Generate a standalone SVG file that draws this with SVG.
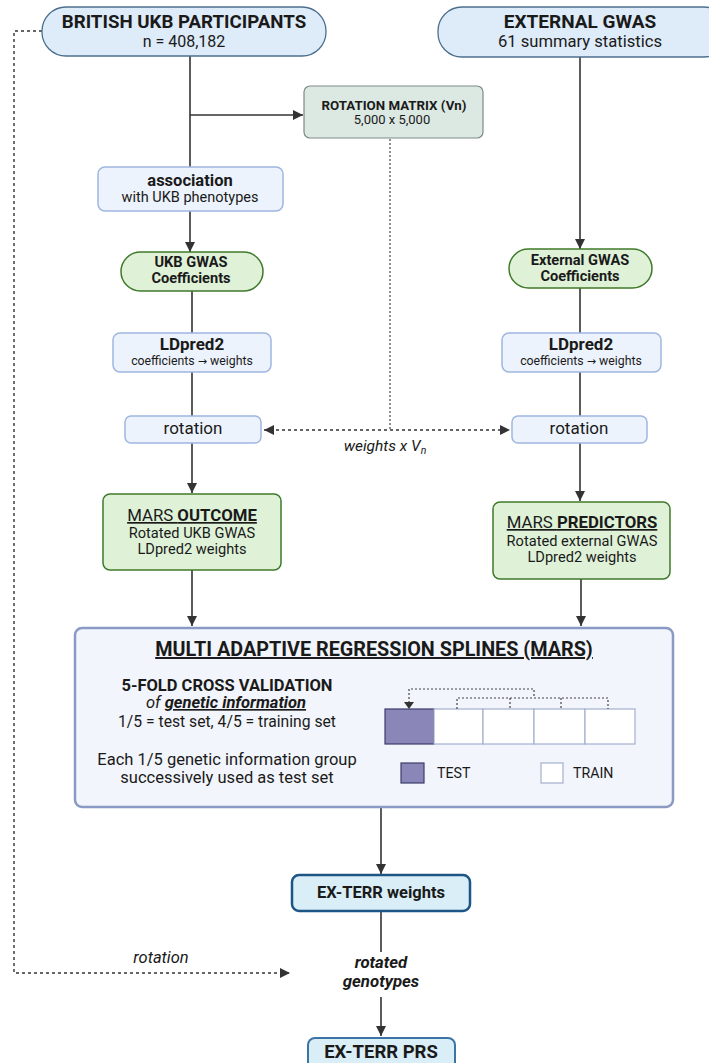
<svg xmlns="http://www.w3.org/2000/svg" width="709" height="1063" viewBox="0 0 709 1063">
<style>
text{font-family:Roboto,"Liberation Sans",sans-serif;fill:#1a1a1a;text-anchor:middle}
.b{font-weight:bold}
.i{font-style:italic}
.ar{font-family:"DejaVu Sans",sans-serif}
.pill{fill:#deebf8;stroke:#4d6f8f;stroke-width:1.3}
.sm{fill:#edf3fc;stroke:#9fb6df;stroke-width:1.5}
.gr{fill:#dff2d8;stroke:#3f7a2a;stroke-width:1.5}
.ln{stroke:#333;stroke-width:1.6;fill:none}
.dt{stroke:#333;stroke-width:1.4;fill:none;stroke-dasharray:3 3}
.dt2{stroke:#444;stroke-width:1.2;fill:none;stroke-dasharray:2 2}
</style>
<defs>
<marker id="ah" viewBox="0 0 10 10" refX="10" refY="5" markerWidth="10" markerHeight="10" markerUnits="userSpaceOnUse" orient="auto-start-reverse"><path d="M0,0 L10,5 L0,10 z" fill="#333"/></marker>
</defs>

<g id="connectors">
<path class="dt" d="M42,31 H14 V973 H290" marker-end="url(#ah)"/>
<path class="ln" d="M190,56 V252" marker-end="url(#ah)"/>
<path class="ln" d="M190,115 H303" marker-end="url(#ah)"/>
<path class="ln" d="M192,291 V333"/>
<path class="ln" d="M192,372 V416"/>
<path class="ln" d="M192,443 V493" marker-end="url(#ah)"/>
<path class="ln" d="M192,570 V626" marker-end="url(#ah)"/>
<path class="ln" d="M580,57 V249" marker-end="url(#ah)"/>
<path class="ln" d="M580,288 V333"/>
<path class="ln" d="M580,372 V416"/>
<path class="ln" d="M580,443 V501" marker-end="url(#ah)"/>
<path class="ln" d="M581,579 V626" marker-end="url(#ah)"/>
<path class="dt2" d="M390,139 V430"/>
<path class="dt" d="M264,430 H510" marker-start="url(#ah)" marker-end="url(#ah)"/>
<path class="ln" d="M381,808 V874" marker-end="url(#ah)"/>
<path class="ln" d="M381,912 V952"/>
<path class="ln" d="M381,997 V1036" marker-end="url(#ah)"/>
</g>

<text class="i" x="385" y="451" font-size="15.5">weights x V<tspan font-size="10.5" dy="3">n</tspan></text>
<text class="i" x="161" y="963" font-size="16.5">rotation</text>

<g id="ukb">
<rect class="pill" x="42" y="7" width="284" height="49" rx="24"/>
<text class="b" x="184" y="28" font-size="18.7">BRITISH UKB PARTICIPANTS</text>
<text x="184" y="47" font-size="16">n = 408,182</text>
</g>

<g id="external">
<rect class="pill" x="438" y="7" width="290" height="50" rx="24"/>
<text class="b" x="580" y="28" font-size="19">EXTERNAL GWAS</text>
<text x="580" y="47" font-size="16.6">61 summary statistics</text>
</g>

<g id="rotmatrix">
<rect x="304" y="86" width="179" height="52" rx="6" fill="#dce8e2" stroke="#7d8a86" stroke-width="1.2"/>
<text class="b" x="394" y="110" font-size="13.3">ROTATION MATRIX (Vn)</text>
<text x="392" y="124" font-size="13">5,000 x 5,000</text>
</g>

<g id="association">
<rect class="sm" x="98" y="167" width="185" height="44" rx="7"/>
<text class="b" x="190" y="186" font-size="16.5">association</text>
<text x="190" y="202" font-size="14.5">with UKB phenotypes</text>
</g>

<g id="ukbcoef">
<rect class="gr" x="121" y="252" width="142" height="39" rx="19.5"/>
<text class="b" x="191" y="267" font-size="14.6">UKB GWAS</text>
<text class="b" x="191" y="283" font-size="14.6">Coefficients</text>
</g>

<g id="extcoef">
<rect class="gr" x="509" y="249" width="143" height="39" rx="19.5"/>
<text class="b" x="580" y="265" font-size="14.6">External GWAS</text>
<text class="b" x="580" y="281" font-size="14.6">Coefficients</text>
</g>

<g id="ldpred_left">
<rect class="sm" x="113" y="333" width="158" height="39" rx="7"/>
<text class="b" x="192" y="350" font-size="17">LDpred2</text>
<text x="192" y="365" font-size="12.3">coefficients <tspan class="ar" font-size="11">→</tspan> weights</text>
</g>

<g id="ldpred_right">
<rect class="sm" x="502" y="333" width="159" height="39" rx="7"/>
<text class="b" x="581" y="350" font-size="17">LDpred2</text>
<text x="581" y="365" font-size="12.3">coefficients <tspan class="ar" font-size="11">→</tspan> weights</text>
</g>

<g id="rot_left">
<rect class="sm" x="125" y="416" width="136" height="27" rx="6"/>
<text x="193" y="434" font-size="17">rotation</text>
</g>

<g id="rot_right">
<rect class="sm" x="512" y="416" width="135" height="27" rx="6"/>
<text x="579" y="434" font-size="17">rotation</text>
</g>

<g id="outcome">
<rect class="gr" x="103" y="494" width="178" height="76" rx="7"/>
<text x="192" y="521" font-size="16.8" text-decoration="underline">MARS <tspan class="b">OUTCOME</tspan></text>
<text x="192" y="538" font-size="14.6">Rotated UKB GWAS</text>
<text x="192" y="554" font-size="14.6">LDpred2 weights</text>
</g>

<g id="predictors">
<rect class="gr" x="493" y="502" width="177" height="77" rx="7"/>
<text x="582" y="528" font-size="16.8" text-decoration="underline">MARS <tspan class="b">PREDICTORS</tspan></text>
<text x="582" y="546" font-size="14.6">Rotated external GWAS</text>
<text x="582" y="562" font-size="14.6">LDpred2 weights</text>
</g>

<g id="mars">
<rect x="75" y="628" width="598" height="179" rx="7" fill="#f2f5fb" stroke="#8a9ac3" stroke-width="2.5"/>
<text class="b" x="374" y="656" font-size="19.8" text-decoration="underline">MULTI ADAPTIVE REGRESSION SPLINES (MARS)</text>
<text class="b" x="227" y="691" font-size="16.5">5-FOLD CROSS VALIDATION</text>
<text class="i" x="226" y="708" font-size="16.5">of <tspan class="b" text-decoration="underline">genetic information</tspan></text>
<text x="227" y="727" font-size="15.7">1/5 = test set, 4/5 = training set</text>
<text x="227" y="765" font-size="16.5">Each 1/5 genetic information group</text>
<text x="227" y="783" font-size="16.5">successively used as test set</text>
<rect x="385" y="709" width="49" height="35" fill="#8a86b8" stroke="#3a3f6a" stroke-width="1.2"/>
<rect x="434" y="709" width="49" height="35" fill="#fff" stroke="#a4b0cf" stroke-width="1.2"/>
<rect x="483" y="709" width="51" height="35" fill="#fff" stroke="#a4b0cf" stroke-width="1.2"/>
<rect x="534" y="709" width="51" height="35" fill="#fff" stroke="#a4b0cf" stroke-width="1.2"/>
<rect x="585" y="709" width="50" height="35" fill="#fff" stroke="#a4b0cf" stroke-width="1.2"/>
<path class="dt2" d="M409,703 V689 H534 V698"/>
<path d="M404,702 L414,702 L409,709 z" fill="#333"/>
<path class="dt2" d="M457,709 V698 H608 V709 M510,698 V709 M561,698 V709"/>
<rect x="401" y="763" width="23" height="20" fill="#8a86b8" stroke="#3a3f6a" stroke-width="1.2"/>
<text x="437" y="778" font-size="14.2" style="text-anchor:start">TEST</text>
<rect x="541" y="763" width="22" height="20" fill="#fff" stroke="#a4b0cf" stroke-width="1.2"/>
<text x="573" y="778" font-size="14.2" style="text-anchor:start">TRAIN</text>
</g>

<g id="weights">
<rect x="292" y="875" width="178" height="36" rx="7" fill="#d9eef6" stroke="#1d5587" stroke-width="2.5"/>
<text class="b" x="381" y="898" font-size="16.5">EX-TERR weights</text>
</g>

<g id="rotgeno">
<text class="b i" x="381" y="968" font-size="16.8">rotated</text>
<text class="b i" x="381" y="987" font-size="16.8">genotypes</text>
</g>

<g id="prs">
<rect x="308" y="1038" width="147" height="40" rx="7" fill="#d9eef6" stroke="#3d74a6" stroke-width="2"/>
<text class="b" x="381" y="1058" font-size="18.5">EX-TERR PRS</text>
</g>
</svg>
